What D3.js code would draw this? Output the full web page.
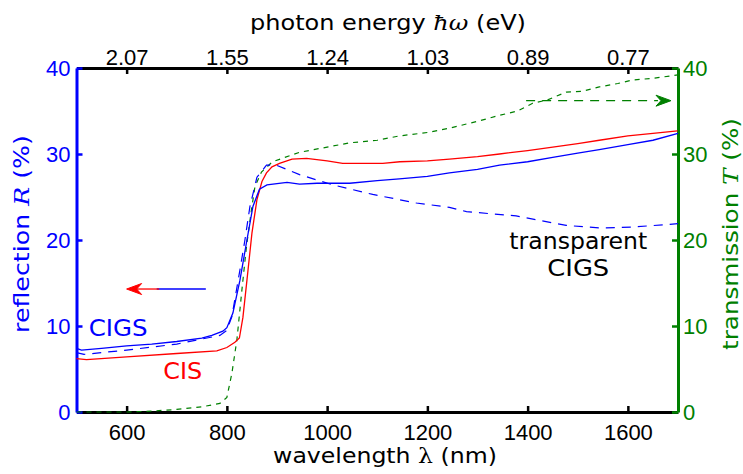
<!DOCTYPE html>
<html><head><meta charset="utf-8">
<script src="https://cdn.jsdelivr.net/npm/d3@7"></script>
<style>
body{margin:0;background:#fff;}
svg{display:block;}
.tick text{font-family:"Liberation Sans",Arial,sans-serif;}
.ttl{font-family:"DejaVu Sans",sans-serif;}
</style></head>
<body>
<svg id="c" width="743" height="474"></svg>
<script>
// ---- data ----
const wavelengthTicks = [600, 800, 1000, 1200, 1400, 1600];
const energyTickLabels = ["2.07", "1.55", "1.24", "1.03", "0.89", "0.77"];
const leftTicks = [0, 10, 20, 30, 40];
const rightTicks = [0, 10, 20, 30, 40];

const cigsWl = [500, 510, 550, 600, 650, 700, 750, 770, 792, 800, 812, 826, 840, 852, 865, 880, 892, 920, 945, 980, 1000, 1045, 1100, 1144, 1200, 1244, 1300, 1344, 1400, 1450, 1500, 1543, 1600, 1650, 1700];
const cigsR  = [7.4, 7.2, 7.4, 7.7, 7.9, 8.2, 8.6, 8.9, 9.4, 9.8, 11.5, 15.3, 20.0, 23.9, 25.9, 26.4, 26.5, 26.7, 26.5, 26.6, 26.6, 26.6, 26.9, 27.1, 27.4, 27.8, 28.2, 28.7, 29.1, 29.6, 30.1, 30.5, 31.1, 31.6, 32.4];

const cisWl = [500, 520, 600, 700, 780, 800, 816, 825, 832, 840, 850, 860, 870, 879, 890, 905, 930, 959, 1000, 1031, 1070, 1111, 1145, 1200, 1244, 1300, 1344, 1400, 1450, 1500, 1543, 1600, 1650, 1699];
const cisR  = [6.2, 6.1, 6.4, 6.8, 7.1, 7.5, 8.1, 8.6, 11.0, 15.3, 20.8, 24.7, 26.8, 27.8, 28.5, 28.9, 29.4, 29.5, 29.2, 28.9, 28.9, 28.9, 29.1, 29.2, 29.4, 29.7, 30.0, 30.4, 30.8, 31.2, 31.6, 32.1, 32.4, 32.7];

const transpWl = [500, 515, 600, 700, 786, 800, 810, 826, 836, 846, 860, 879, 899, 945, 1012, 1091, 1178, 1244, 1278, 1377, 1477, 1543, 1609, 1700];
const transpR  = [6.9, 6.7, 7.2, 7.9, 8.9, 9.5, 11.1, 16.5, 20.0, 23.9, 27.3, 28.7, 28.7, 27.6, 26.4, 25.3, 24.3, 23.8, 23.3, 22.8, 21.7, 21.4, 21.5, 21.9];

const transWl = [500, 600, 650, 700, 750, 786, 800, 810, 820, 830, 839, 849, 856, 869, 891, 945, 1000, 1045, 1100, 1144, 1200, 1244, 1300, 1344, 1380, 1410, 1440, 1477, 1510, 1543, 1580, 1609, 1650, 1700];
const transT  = [0, 0, 0.1, 0.3, 0.6, 1.0, 1.7, 4.5, 8.4, 14.2, 19.2, 23.5, 26.2, 27.9, 29.1, 30.2, 30.8, 31.3, 31.6, 32.1, 32.5, 33.0, 33.8, 34.5, 35.0, 35.9, 36.3, 37.2, 37.3, 37.8, 38.2, 38.6, 38.8, 39.2];

// ---- layout ----
const x = d3.scaleLinear().domain([500, 1700]).range([76.5, 678]);
const yL = d3.scaleLinear().domain([0, 40]).range([412, 68]);
const yR = d3.scaleLinear().domain([0, 40]).range([412, 68]);
const BLUE = "#0000ff", RED = "#ff0000", GREEN = "#008000";

const svg = d3.select("#c");

// axes
function styleAxis(g, color, fs) {
  g.select(".domain").attr("stroke", color).attr("stroke-width", 3);
  g.selectAll(".tick line").attr("stroke", color).attr("stroke-width", 2.5);
  g.selectAll(".tick text").attr("fill", color).attr("font-size", fs);
}
const gB = svg.append("g").attr("transform", `translate(0,412)`)
  .call(d3.axisBottom(x).tickValues(wavelengthTicks).tickFormat(d => String(d)).tickSizeInner(-6).tickSizeOuter(0).tickPadding(12));
styleAxis(gB, "#000", 22);
const gT = svg.append("g").attr("transform", `translate(0,68)`)
  .call(d3.axisTop(x).tickValues(wavelengthTicks).tickFormat((d, i) => energyTickLabels[i]).tickSizeInner(-6).tickSizeOuter(0).tickPadding(3));
styleAxis(gT, "#000", 22);
const gL = svg.append("g").attr("transform", `translate(76.5,0)`)
  .call(d3.axisLeft(yL).tickValues(leftTicks).tickSizeInner(-6).tickSizeOuter(0).tickPadding(6));
styleAxis(gL, BLUE, 22);
const gR = svg.append("g").attr("transform", `translate(678,0)`)
  .call(d3.axisRight(yR).tickValues(rightTicks).tickSizeInner(-6).tickSizeOuter(0).tickPadding(5));
styleAxis(gR, GREEN, 22);

// curves
const lineL = (wl, v) => d3.line().x((d, i) => x(wl[i])).y(d => yL(d))(v);
const lineR = (wl, v) => d3.line().x((d, i) => x(wl[i])).y(d => yR(d))(v);

svg.append("path").attr("d", lineR(transWl, transT)).attr("fill", "none")
  .attr("stroke", GREEN).attr("stroke-width", 1.2).attr("stroke-dasharray", "5,5");
svg.append("path").attr("d", lineL(transpWl, transpR)).attr("fill", "none")
  .attr("stroke", BLUE).attr("stroke-width", 1.2).attr("stroke-dasharray", "9,7");
svg.append("path").attr("d", lineL(cisWl, cisR)).attr("fill", "none")
  .attr("stroke", RED).attr("stroke-width", 1.3);
svg.append("path").attr("d", lineL(cigsWl, cigsR)).attr("fill", "none")
  .attr("stroke", BLUE).attr("stroke-width", 1.3);

// titles (horizontally stretched like the reference)
function title(parts, cx, cy, rot, target, color, fs) {
  const t = svg.append("text").attr("class", "ttl").attr("x", 0).attr("y", 0)
    .attr("text-anchor", "middle").attr("font-size", fs).attr("fill", color);
  parts.forEach(p => {
    const s = t.append("tspan").text(p.s);
    if (p.it) s.attr("font-style", "italic").attr("font-family", "DejaVu Serif");
    if (p.serif) s.attr("font-family", "DejaVu Serif");
  });
  const w = t.node().getComputedTextLength();
  t.attr("transform", `translate(${cx},${cy}) rotate(${rot}) scale(${target / w},1)`);
}
title([{s: "photon energy "}, {s: "ħω", it: 1}, {s: " (eV)"}], 388, 30, 0, 276, "#000", 21);
title([{s: "wavelength "}, {s: "λ", serif: 1}, {s: " (nm)"}], 385, 463, 0, 224, "#000", 21);
title([{s: "reflection "}, {s: "R", it: 1}, {s: " (%)"}], 29, 234, -90, 198, BLUE, 21);
title([{s: "transmission "}, {s: "T", it: 1}, {s: " (%)"}], 738, 234, -90, 232, GREEN, 21);

// annotations
const annot = [
  {t: "CIGS", wl: 583, v: 8.8, c: BLUE, w: 59},
  {t: "CIS", wl: 712, v: 3.8, c: RED, w: 39},
  {t: "transparent", wl: 1501, v: 18.9, c: "#000", w: 138},
  {t: "CIGS", wl: 1501, v: 15.8, c: "#000", w: 62}
];
annot.forEach(a => {
  const t = svg.append("text").attr("class", "ttl").attr("x", 0).attr("y", 0)
    .attr("text-anchor", "middle").attr("font-size", 23).attr("fill", a.c).text(a.t);
  const w = t.node().getComputedTextLength();
  t.attr("transform", `translate(${x(a.wl)},${yL(a.v)}) scale(${a.w / w},1)`);
});

// arrows
function arrowHead(tipX, tipY, dir, color) {
  const L = 15, h = 5.5, b = 10;
  const p = `M${tipX},${tipY} L${tipX - dir * L},${tipY - h} L${tipX - dir * b},${tipY} L${tipX - dir * L},${tipY + h} Z`;
  svg.append("path").attr("d", p).attr("fill", color).attr("stroke", color).attr("stroke-width", 1);
}
const ay = yL(14.3);
svg.append("line").attr("x1", x(758)).attr("x2", x(660)).attr("y1", ay).attr("y2", ay)
  .attr("stroke", BLUE).attr("stroke-width", 1.3);
svg.append("line").attr("x1", x(665)).attr("x2", x(610)).attr("y1", ay).attr("y2", ay)
  .attr("stroke", RED).attr("stroke-width", 1.3);
arrowHead(x(600), ay, -1, RED);
const gy = yR(36.2);
svg.append("line").attr("x1", x(1397)).attr("x2", x(1660)).attr("y1", gy).attr("y2", gy)
  .attr("stroke", GREEN).attr("stroke-width", 1.3).attr("stroke-dasharray", "9,7");
arrowHead(x(1686), gy, 1, GREEN);
</script>
</body></html>
